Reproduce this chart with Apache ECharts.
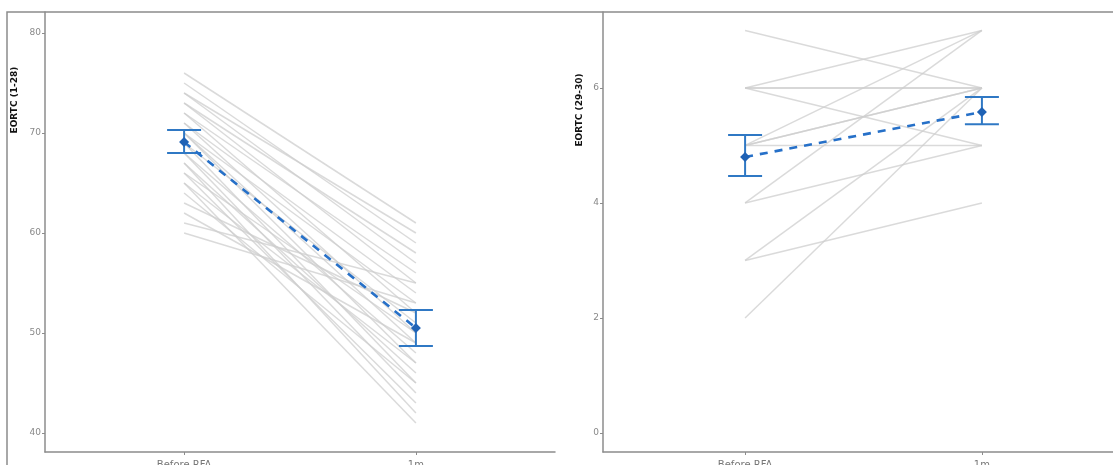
<!DOCTYPE html>
<html>
<head>
<meta charset="utf-8">
<script src="https://cdn.jsdelivr.net/npm/echarts@6/dist/echarts.min.js"></script>
<style>
  html, body { margin: 0; padding: 0; background: #fff; }
  #chart { width: 1113px; height: 465px; }
</style>
</head>
<body>
<div id="chart"></div>
<script>
// categories on the x axis (positions 1 and 2)
const timepoints = ['Before RFA', '1m'];

// EORTC (1-28): individual patients, before and at 1 month
const qolBefore = [76, 75, 74, 74, 73, 73, 72, 72, 71, 71, 70, 70, 70, 69, 69, 68, 68, 67, 67, 66, 66, 65, 65, 64, 63, 62, 61, 60];
const qolAfter  = [61, 59, 60, 57, 58, 55, 56, 52, 54, 50, 53, 47, 49, 45, 51, 44, 48, 42, 46, 43, 50, 41, 47, 45, 52, 49, 55, 53];
// mean and error bar (lower, upper)
const qolMean  = [69.1, 50.5];
const qolLower = [68.0, 48.7];
const qolUpper = [70.3, 52.3];

// EORTC (29-30)
const ghsBefore = [7, 6, 6, 6, 6, 5, 5, 5, 5, 4, 4, 3, 3, 2];
const ghsAfter  = [6, 6, 5, 7, 6, 7, 5, 6, 6, 5, 7, 6, 4, 6];
const ghsMean  = [4.80, 5.58];
const ghsLower = [4.47, 5.37];
const ghsUpper = [5.18, 5.84];

const leftTicks = [40, 50, 60, 70, 80];
const rightTicks = [0, 2, 4, 6];

const axisGray = '#8c8c8c';
const blue = '#2f78c4';

function xAxisCfg(gridIndex) {
  return {
    type: 'value', gridIndex: gridIndex, min: 0.4, max: 2.6,
    axisLine: { onZero: false, lineStyle: { color: axisGray, width: 1.5 } },
    axisTick: { show: true, customValues: [1, 2], length: 3, lineStyle: { color: axisGray } },
    axisLabel: {
      customValues: [1, 2], color: '#777', fontSize: 10, margin: 8,
      fontFamily: 'DejaVu Sans',
      formatter: v => timepoints[Math.round(v) - 1]
    },
    splitLine: { show: false }
  };
}
function yAxisCfg(gridIndex, min, max, ticks) {
  return {
    type: 'value', gridIndex: gridIndex, min: min, max: max,
    axisLine: { show: true, onZero: false, lineStyle: { color: axisGray, width: 1.5 } },
    axisTick: { show: true, customValues: ticks, length: 3, lineStyle: { color: axisGray } },
    axisLabel: { customValues: ticks, color: '#888', fontSize: 9, margin: 4, fontFamily: 'DejaVu Sans' },
    splitLine: { show: false }
  };
}

function subjectSeries(before, after, idx) {
  return before.map((b, i) => ({
    type: 'line', xAxisIndex: idx, yAxisIndex: idx,
    data: [[1, b], [2, after[i]]],
    symbol: 'none', silent: true, z: 1,
    lineStyle: { color: 'rgba(205,205,205,0.75)', width: 1.5 }
  }));
}

function errorSeries(lower, upper, idx) {
  return {
    type: 'custom', xAxisIndex: idx, yAxisIndex: idx, z: 4,
    data: lower.map((l, i) => [i + 1, l, upper[i]]),
    renderItem: (params, api) => {
      const lo = api.coord([api.value(0), api.value(1)]);
      const hi = api.coord([api.value(0), api.value(2)]);
      const half = 17;
      const style = { stroke: blue, lineWidth: 2 };
      return {
        type: 'group',
        children: [
          { type: 'line', shape: { x1: lo[0], y1: lo[1], x2: hi[0], y2: hi[1] }, style: style },
          { type: 'line', shape: { x1: lo[0] - half, y1: lo[1], x2: lo[0] + half, y2: lo[1] }, style: style },
          { type: 'line', shape: { x1: hi[0] - half, y1: hi[1], x2: hi[0] + half, y2: hi[1] }, style: style }
        ]
      };
    }
  };
}

function meanSeries(mean, idx) {
  return {
    type: 'line', xAxisIndex: idx, yAxisIndex: idx, z: 5,
    data: mean.map((m, i) => [i + 1, m]),
    symbol: 'diamond', symbolSize: 10, showSymbol: true,
    itemStyle: { color: '#1f62b5' },
    lineStyle: { color: '#2670c8', width: 2.6, type: [8, 7] }
  };
}

const option = {
  animation: false,
  backgroundColor: '#fff',
  grid: [
    { left: 45, top: 12, width: 510, height: 440, outerBoundsMode: 'none' },
    { left: 603, top: 12, width: 521, height: 440, outerBoundsMode: 'none' }
  ],
  xAxis: [xAxisCfg(0), xAxisCfg(1)],
  yAxis: [yAxisCfg(0, 38.1, 82.1, leftTicks), yAxisCfg(1, -0.33, 7.32, rightTicks)],
  graphic: [
    { type: 'rect', shape: { x: 7, y: 12, width: 1300, height: 600 }, style: { fill: null, stroke: axisGray, lineWidth: 1.5 }, z: -1 },
    { type: 'text', x: 15, y: 100, rotation: Math.PI / 2,
      style: { text: 'EORTC (1-28)', font: 'bold 9px "DejaVu Sans"', fill: '#111', align: 'center', verticalAlign: 'middle' } },
    { type: 'text', x: 580, y: 110, rotation: Math.PI / 2,
      style: { text: 'EORTC (29-30)', font: 'bold 9px "DejaVu Sans"', fill: '#111', align: 'center', verticalAlign: 'middle' } }
  ],
  series: [
    ...subjectSeries(qolBefore, qolAfter, 0),
    ...subjectSeries(ghsBefore, ghsAfter, 1),
    meanSeries(qolMean, 0),
    meanSeries(ghsMean, 1),
    errorSeries(qolLower, qolUpper, 0),
    errorSeries(ghsLower, ghsUpper, 1)
  ]
};

const chart = echarts.init(document.getElementById('chart'));
chart.setOption(option);
</script>
</body>
</html>
